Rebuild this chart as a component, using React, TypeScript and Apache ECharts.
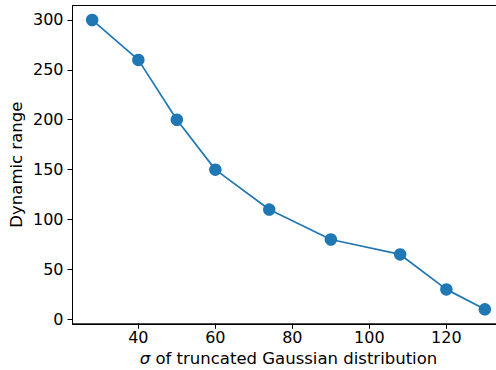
import React, { useEffect, useRef } from "react";
import * as echarts from "echarts";

const sigmaValues = [28, 40, 50, 60, 74, 90, 108, 120, 130];
const dynamicRange = [300, 260, 200, 150, 110, 80, 65, 30, 10];
const xTicks = [40, 60, 80, 100, 120];
const yTicks = [0, 50, 100, 150, 200, 250, 300];

export default function App() {
  const ref = useRef<HTMLDivElement>(null);
  useEffect(() => {
    if (!ref.current) return;
    const chart = echarts.init(ref.current, undefined, { renderer: "svg" });
    const font = "DejaVu Sans";
    chart.setOption({
      animation: false,
      backgroundColor: "#ffffff",
      grid: {
        left: 72.5,
        top: 5.5,
        width: 432,
        height: 318.3,
        show: true,
        borderColor: "#000000",
        borderWidth: 1,
        containLabel: false,
        outerBoundsMode: "none",
      },
      xAxis: {
        type: "value",
        min: 22.9,
        max: 135.1,
        name: "{i|σ} of truncated Gaussian distribution",
        nameLocation: "middle",
        nameGap: 26,
        nameMoveOverlap: false,
        nameTextStyle: {
          fontFamily: font,
          fontSize: 16.5,
          color: "#000",
          rich: { i: { fontStyle: "italic", fontFamily: font, fontSize: 16.5, color: "#000" } },
        },
        splitLine: { show: false },
        axisLine: { show: true, onZero: false, lineStyle: { color: "#000", width: 1 } },
        axisTick: { show: true, length: 5, customValues: xTicks, lineStyle: { color: "#000", width: 1 } },
        axisLabel: { customValues: xTicks, margin: 6, fontFamily: font, fontSize: 16, color: "#000" },
      },
      yAxis: {
        type: "value",
        min: -4.5,
        max: 314.5,
        name: "Dynamic range",
        nameLocation: "middle",
        nameGap: 48,
        nameMoveOverlap: false,
        nameTextStyle: { fontFamily: font, fontSize: 16.5, color: "#000" },
        splitLine: { show: false },
        axisLine: { show: true, onZero: false, lineStyle: { color: "#000", width: 1 } },
        axisTick: { show: true, length: 5, customValues: yTicks, lineStyle: { color: "#000", width: 1 } },
        axisLabel: { customValues: yTicks, margin: 9, fontFamily: font, fontSize: 16, color: "#000" },
      },
      series: [
        {
          type: "line",
          data: sigmaValues.map((x, i) => [x, dynamicRange[i]]),
          symbol: "circle",
          symbolSize: 12.5,
          lineStyle: { color: "#1f77b4", width: 1.7 },
          itemStyle: { color: "#1f77b4" },
          clip: false,
        },
      ],
    });
    return () => chart.dispose();
  }, []);
  return <div ref={ref} style={{ width: 496, height: 370, position: "absolute", left: 0, top: 0 }} />;
}
